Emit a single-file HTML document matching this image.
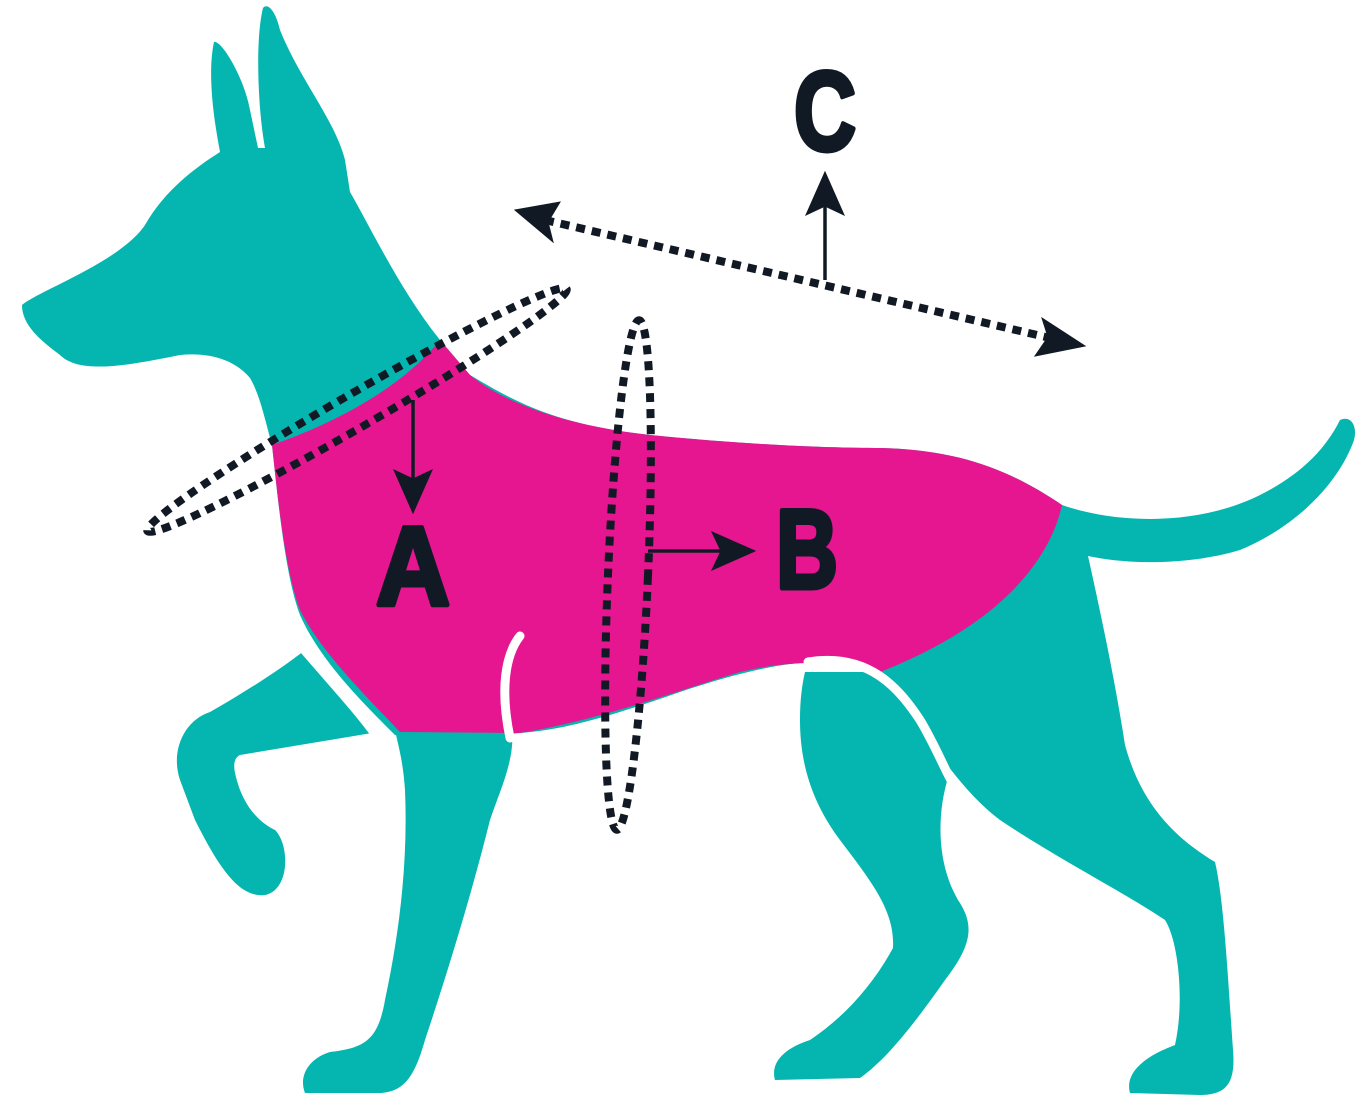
<!DOCTYPE html>
<html><head><meta charset="utf-8"><style>html,body{margin:0;padding:0;background:#fff}svg{display:block}</style></head>
<body>
<svg width="1366" height="1106" viewBox="0 0 1366 1106" xmlns="http://www.w3.org/2000/svg">
<g fill="#05b6b0">
<path d="M22,305 C40,290 120,262 145,225 C165,190 195,168 220,152 C212,110 208,70 214,42 C222,40 245,80 250,110 L258,148 L265,148 C258,110 255,40 263,8 C268,2 276,12 280,30 C300,80 335,120 345,160 L350,192 C372,230 400,290 440,340 L470,375 C520,405 560,425 650,435 C750,445 830,448 880,448 C960,450 1010,470 1062,505 C1120,525 1200,525 1260,495 C1300,475 1325,450 1340,420 C1350,415 1358,425 1354,440 C1340,480 1300,525 1240,550 C1190,565 1130,565 1088,556 C1100,610 1115,680 1125,745 C1140,800 1170,835 1215,862 C1224,900 1228,980 1233,1050 C1236,1085 1225,1095 1200,1095 L1130,1093 C1125,1075 1140,1058 1175,1045 C1185,1000 1178,940 1165,920 C1120,890 1060,860 1000,820 C960,790 930,740 900,700 C880,672 860,662 830,662 C790,660 740,672 680,692 C600,720 560,730 520,733 C470,738 430,738 395,735 C360,700 320,660 300,615 C285,575 278,500 272,445 C265,420 260,395 250,378 C235,360 210,352 180,355 C130,365 80,375 60,355 C40,340 22,325 22,305Z"/>
<path d="M305,650 L372,733 L240,755 C230,760 235,775 240,790 C250,815 265,825 275,830 C290,845 290,890 265,895 C240,898 220,870 195,820 L180,780 C170,750 185,720 210,712 C240,695 280,670 305,650Z"/>
<path d="M395,730 L512,730 C515,760 500,790 490,820 C470,900 445,980 425,1040 C415,1075 405,1092 380,1093 L305,1093 C298,1075 310,1058 330,1052 C365,1048 378,1040 385,1000 C400,930 408,860 405,790 C403,760 398,745 395,730Z"/>
<path d="M805,672 L885,672 C910,700 930,745 948,778 C938,810 935,860 958,900 C975,925 972,945 945,980 C910,1030 885,1060 860,1078 L775,1080 C770,1062 785,1048 810,1040 C840,1020 870,990 893,948 C895,910 870,880 840,840 C810,800 800,760 800,720 C800,700 802,685 805,672Z"/>
</g>
<path fill="#e5168f" d="M272,445 C330,425 400,390 440,340 L470,375 C500,400 560,425 650,435 C750,445 830,448 880,448 C960,450 1010,470 1062,505 C1050,560 1000,625 880,672 C840,660 790,660 740,672 C680,690 600,720 520,733 L400,732 C360,690 320,650 300,610 C285,570 278,500 272,445Z"/>
<g fill="none" stroke="#fff" stroke-width="9" stroke-linecap="round">
<path d="M300,645 C330,680 358,710 378,738"/>
<path d="M520,636 C505,655 500,690 510,738"/>
<path d="M808,662 C870,652 900,690 920,720 C935,745 945,770 952,782"/>
</g>
<g fill="none" stroke="#111a24" stroke-width="8" stroke-dasharray="9 7">
<ellipse cx="357" cy="410" rx="242" ry="17" transform="rotate(-30 357 410)"/>
<ellipse cx="628" cy="575" rx="20" ry="255" transform="rotate(2.5 628 575)"/>
<path d="M545,220 L1050,338"/>
</g>
<g fill="#111a24" stroke="#111a24">
<path d="M515,210 L560,202 L548,222 L553,242Z"/>
<path d="M1085,346 L1035,356 L1048,337 L1042,318Z"/>
<line x1="825" y1="280" x2="825" y2="200" stroke-width="3.5"/>
<path d="M825,172 L844,215 L825,206 L806,215Z"/>
<line x1="413" y1="400" x2="413" y2="485" stroke-width="3.5"/>
<path d="M413,513 L394,470 L413,479 L432,470Z"/>
<line x1="648" y1="551" x2="725" y2="551" stroke-width="3.5"/>
<path d="M755,551 L712,532 L721,551 L712,570Z"/>
</g>
<g font-family="Liberation Sans, sans-serif" font-weight="bold" fill="#111a24" stroke="#111a24" stroke-width="5" stroke-linejoin="round" font-size="112">
<text x="376" y="605" textLength="74" lengthAdjust="spacingAndGlyphs">A</text>
<text x="776" y="588" textLength="62" lengthAdjust="spacingAndGlyphs">B</text>
<text x="794" y="150" textLength="62" lengthAdjust="spacingAndGlyphs">C</text>
</g>
</svg>
</body></html>
